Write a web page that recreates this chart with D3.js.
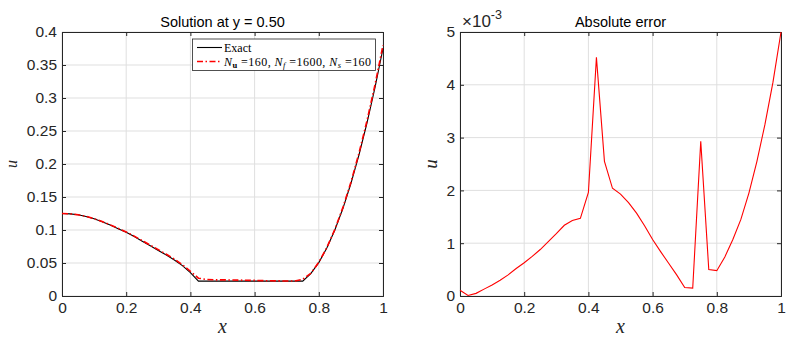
<!DOCTYPE html>
<html>
<head>
<meta charset="utf-8">
<script src="https://cdn.jsdelivr.net/npm/d3@7"></script>
<style>
  body { margin: 0; background: #fff; }
  text { font-family: "Liberation Sans", Arial, sans-serif; fill: #262626; }
  .serif { font-family: "Liberation Serif", "Times New Roman", serif; }
</style>
</head>
<body>
<svg id="fig" width="798" height="337"></svg>
<script>
// grid of x positions along y = 0.50
const xs = [0, 0.025, 0.05, 0.075, 0.1, 0.125, 0.15, 0.175, 0.2, 0.225,
  0.25, 0.275, 0.3, 0.325, 0.35, 0.375, 0.4, 0.425, 0.45, 0.475,
  0.5, 0.525, 0.55, 0.575, 0.6, 0.625, 0.65, 0.675, 0.7, 0.725,
  0.75, 0.775, 0.8, 0.825, 0.85, 0.875, 0.9, 0.925, 0.95, 0.975, 1];

const exact = [0.125, 0.1245, 0.123, 0.1205, 0.117, 0.1125, 0.1075, 0.102, 0.0965, 0.09,
  0.083, 0.076, 0.069, 0.062, 0.0545, 0.046, 0.0355, 0.0225, 0.0225, 0.0225,
  0.0225, 0.0225, 0.0225, 0.0225, 0.0225, 0.0225, 0.0225, 0.0225, 0.0225, 0.0225,
  0.0225, 0.0339, 0.0506, 0.0726, 0.0999, 0.1325, 0.1704, 0.2136, 0.2621, 0.3159, 0.375];

const pinn = [0.1251, 0.1245, 0.1230, 0.1206, 0.1172, 0.1128, 0.1079, 0.1025, 0.0971, 0.0907,
  0.0839, 0.0770, 0.0702, 0.0633, 0.0559, 0.0475, 0.0375, 0.0270, 0.0251, 0.0245,
  0.0244, 0.0243, 0.0241, 0.0238, 0.0236, 0.0233, 0.0231, 0.0229, 0.0227, 0.0227,
  0.0254, 0.0344, 0.0511, 0.0733, 0.1010, 0.1339, 0.1723, 0.2161, 0.2653, 0.3199, 0.3800];

// absolute error, in units of 1e-3
const absErr = [0.11, 0.01, 0.05, 0.13, 0.21, 0.3, 0.4, 0.52, 0.63, 0.75,
  0.88, 1.03, 1.18, 1.34, 1.43, 1.47, 1.96, 4.52, 2.55, 2.04,
  1.93, 1.77, 1.57, 1.33, 1.07, 0.84, 0.62, 0.4, 0.16, 0.15,
  2.93, 0.5, 0.48, 0.74, 1.07, 1.45, 1.95, 2.55, 3.25, 4.05, 5.0];

const xTicks = [0, 0.2, 0.4, 0.6, 0.8, 1];
const uTicks = [0, 0.05, 0.1, 0.15, 0.2, 0.25, 0.3, 0.35, 0.4];
const errTicks = [0, 1, 2, 3, 4, 5];

const svg = d3.select("#fig");
const axisCol = "#262626";
const gridCol = "#dfdfdf";
const plotTop = 32, plotBottom = 296;

function panel(left, right, yMax, yTicks, title) {
  let x = d3.scaleLinear().domain([0, 1]).range([left, right]);
  let y = d3.scaleLinear().domain([0, yMax]).range([plotBottom, plotTop]);
  let g = svg.append("g");

  // grid
  g.append("g").selectAll("line").data(xTicks).join("line")
    .attr("x1", d => x(d)).attr("x2", d => x(d))
    .attr("y1", plotTop).attr("y2", plotBottom)
    .attr("stroke", gridCol).attr("stroke-width", 1);
  g.append("g").selectAll("line").data(yTicks).join("line")
    .attr("x1", left).attr("x2", right)
    .attr("y1", d => y(d)).attr("y2", d => y(d))
    .attr("stroke", gridCol).attr("stroke-width", 1);

  // axes, ticks pointing inwards on all four sides
  let fmt = d3.format("~g");
  let ax = [
    g.append("g").attr("transform", `translate(0,${plotBottom})`)
      .call(d3.axisBottom(x).tickValues(xTicks).tickSize(-4).tickPadding(6).tickFormat(fmt)),
    g.append("g").attr("transform", `translate(0,${plotTop})`)
      .call(d3.axisTop(x).tickValues(xTicks).tickSize(-4).tickFormat("")),
    g.append("g").attr("transform", `translate(${left},0)`)
      .call(d3.axisLeft(y).tickValues(yTicks).tickSize(-4).tickPadding(5).tickFormat(fmt)),
    g.append("g").attr("transform", `translate(${right},0)`)
      .call(d3.axisRight(y).tickValues(yTicks).tickSize(-4).tickFormat(""))
  ];
  ax.forEach(a => {
    a.selectAll("path, line").attr("stroke", axisCol);
    a.selectAll("text").attr("fill", axisCol)
      .style("font-family", '"Liberation Sans", Arial, sans-serif')
      .style("font-size", "15.5px");
  });

  g.append("text")
    .attr("x", (left + right) / 2).attr("y", 26.5)
    .attr("text-anchor", "middle")
    .style("font-size", "14.5px").style("fill", "#000")
    .text(title);

  g.append("text").attr("class", "serif")
    .attr("x", (left + right) / 2).attr("y", 333)
    .attr("text-anchor", "middle")
    .style("font-size", "20px").style("font-style", "italic")
    .text("x");

  return {g, x, y};
}

// left: solution
let p1 = panel(62, 383, 0.4, uTicks, "Solution at y = 0.50");
p1.g.append("text").attr("class", "serif")
  .attr("transform", "translate(17,164) rotate(-90)")
  .attr("text-anchor", "middle")
  .style("font-size", "16px").style("font-style", "italic")
  .text("u");

let line1 = d3.line().x((d, i) => p1.x(xs[i])).y(d => p1.y(d));
p1.g.append("path").datum(exact)
  .attr("d", line1).attr("fill", "none")
  .attr("stroke", "#000").attr("stroke-width", 1.1);
p1.g.append("path").datum(pinn)
  .attr("d", line1).attr("fill", "none")
  .attr("stroke", "#ff0000").attr("stroke-width", 1.6)
  .attr("stroke-dasharray", "6,2.5,1.5,2.5");

// legend
let lg = p1.g.append("g");
lg.append("rect")
  .attr("x", 192.5).attr("y", 39).attr("width", 183).attr("height", 31.5)
  .attr("fill", "#fff").attr("stroke", axisCol).attr("stroke-width", 0.8);
lg.append("line").attr("x1", 197).attr("x2", 222).attr("y1", 47.5).attr("y2", 47.5)
  .attr("stroke", "#000").attr("stroke-width", 1.1);
lg.append("line").attr("x1", 197).attr("x2", 222).attr("y1", 61.5).attr("y2", 61.5)
  .attr("stroke", "#ff0000").attr("stroke-width", 1.6)
  .attr("stroke-dasharray", "6,2.5,1.5,2.5");
lg.append("text").attr("class", "serif")
  .attr("x", 224).attr("y", 51.5)
  .style("font-size", "12px").style("fill", "#000")
  .text("Exact");
let t2 = lg.append("text").attr("class", "serif")
  .attr("x", 224).attr("y", 65.5)
  .style("font-size", "12px").style("fill", "#000")
  .style("letter-spacing", "0.45px");
const legParts = [
  ["N", "italic", null], ["u", "normal", "sub"], [" =160, ", "normal", null],
  ["N", "italic", null], ["f", "italic", "sub"], [" =1600, ", "normal", null],
  ["N", "italic", null], ["s", "italic", "sub"], [" =160", "normal", null]
];
legParts.forEach(([s, st, pos], i) => {
  let ts = t2.append("tspan").text(s).style("font-style", st).style("fill", "#000");
  if (pos === "sub") {
    ts.attr("dy", 2.5).style("font-size", "8.5px");
    if (s === "u") ts.style("font-weight", "bold");
  } else if (i > 0 && legParts[i - 1][2] === "sub") {
    ts.attr("dy", -2.5);
  }
});

// right: absolute error
let p2 = panel(460, 781, 5, errTicks, "Absolute error");
p2.g.append("text").attr("class", "serif")
  .attr("transform", "translate(437,164) rotate(-90)")
  .attr("text-anchor", "middle")
  .style("font-size", "19px").style("font-style", "italic")
  .text("u");

let line2 = d3.line().x((d, i) => p2.x(xs[i])).y(d => p2.y(d));
p2.g.append("path").datum(absErr)
  .attr("d", line2).attr("fill", "none")
  .attr("stroke", "#ff0000").attr("stroke-width", 1.1);

let mult = p2.g.append("text").attr("x", 462).attr("y", 27)
  .style("font-size", "17px").style("fill", axisCol);
mult.append("tspan").text("\u00d710");
mult.append("tspan").text("-3").attr("dy", -8).style("font-size", "12.5px");
</script>
</body>
</html>
